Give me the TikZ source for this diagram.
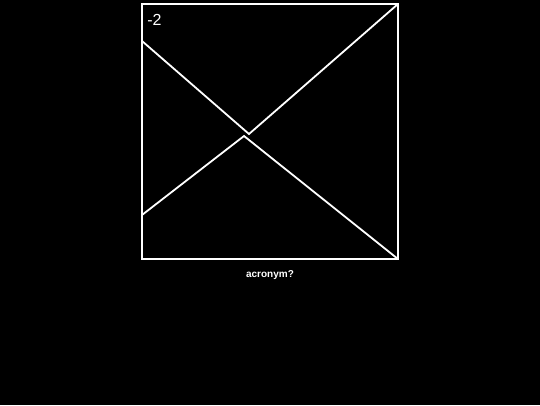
\documentclass[tikz,border=0pt]{standalone}
\usepackage{fontspec}
\setmainfont{Liberation Sans}
\usepackage{tikz}
\usetikzlibrary{positioning}
\tikzstyle{frame} = [draw=white, line width=1.8pt]
\tikzstyle{wire} = [draw=white, line width=1.8pt, line join=miter]
\tikzstyle{tag} = [text=white, inner sep=0pt, font=\fontsize{16}{18}\selectfont]
\tikzstyle{caption} = [text=white, inner sep=0pt, font=\fontsize{10}{12}\selectfont\bfseries]

\begin{document}
\begin{tikzpicture}[x=1pt, y=-1pt]
    % Background
    \fill [black] (0,0) rectangle (540,405);
    \useasboundingbox (0,0) rectangle (540,405);

    % Corner Definitions
    \coordinate (tl) at (142,4);
    \coordinate (br) at (398,259);
    \coordinate (tr) at (398,4);
    \coordinate (upperleft) at (142,41);
    \coordinate (lowerleft) at (142,215);
    \coordinate (upperbend) at (249,134);
    \coordinate (lowerbend) at (244,136);

    % Box
    \draw [frame] (tl) rectangle (br);

    % Bent Lines
    \draw [wire] (upperleft) -- (upperbend) -- (tr);
    \draw [wire] (lowerleft) -- (lowerbend) -- (br);

    % Labels
    \node [tag] (num) at (154.5,19.5) {-2};
    \node [caption, anchor=base] (question) at (270,277.5) {acronym?};
\end{tikzpicture}
\end{document}
